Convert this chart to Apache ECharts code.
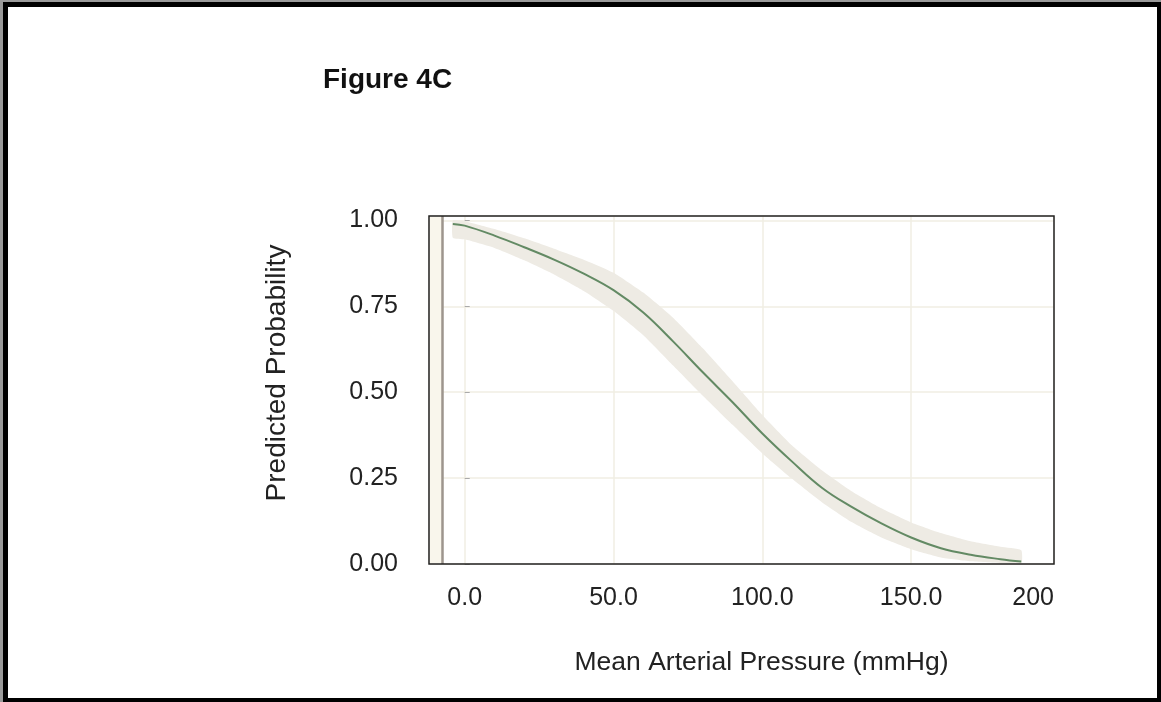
<!DOCTYPE html>
<html>
<head>
<meta charset="utf-8">
<title>Figure 4C</title>
<script src="https://cdn.jsdelivr.net/npm/echarts@6/dist/echarts.min.js"></script>
<style>
  html, body { margin: 0; padding: 0; background: #9a9a9a; }
  #frame {
    position: absolute; left: 3px; top: 2px; width: 1158px; height: 700px;
    box-sizing: border-box; border: 5px solid #000; border-right-width: 4px; border-bottom-width: 4px;
    background: #fff;
  }
  #chart { position: absolute; left: 0; top: 0; width: 1161px; height: 702px; }
</style>
</head>
<body>
<div id="frame"></div>
<div id="chart"></div>
<script>
// mean arterial pressure (mmHg)
const map = [-4, 0, 10, 20, 30, 40, 50, 60, 70, 80, 90, 100, 110, 120, 130, 140, 150, 160, 170, 180, 187];
// predicted probability
const prob = [0.990, 0.985, 0.956, 0.922, 0.886, 0.845, 0.797, 0.732, 0.648, 0.558, 0.471, 0.380, 0.298, 0.222, 0.166, 0.118, 0.077, 0.046, 0.027, 0.014, 0.007];
// 95% band
const upper = [1.000, 0.998, 0.975, 0.948, 0.918, 0.886, 0.848, 0.790, 0.717, 0.628, 0.532, 0.434, 0.345, 0.273, 0.212, 0.162, 0.121, 0.090, 0.066, 0.050, 0.040];
const lower = [0.950, 0.945, 0.920, 0.884, 0.843, 0.795, 0.737, 0.666, 0.578, 0.490, 0.405, 0.322, 0.248, 0.180, 0.122, 0.077, 0.043, 0.019, 0.008, 0.003, 0.000];

const xMin = -12, xMax = 198, xEndLabel = '200';
const yMin = 0, yMax = 1.013, yStep = 0.25;
const refLine = -7.4;

const font = '"Liberation Sans", Arial, sans-serif';
const gridColor = '#f0eee3';

const chart = echarts.init(document.getElementById('chart'));

const option = {
  animation: false,
  title: {
    text: 'Figure 4C',
    left: 318,
    top: 61,
    textStyle: { fontFamily: font, fontSize: 28, fontWeight: 'bold', color: '#111' }
  },
  grid: {
    left: 429, top: 216, right: 107, bottom: 138,
    show: true, z: 10, borderColor: '#222', borderWidth: 1.5, backgroundColor: 'transparent'
  },
  xAxis: {
    type: 'value',
    min: xMin,
    max: xMax,
    name: 'Mean Arterial Pressure (mmHg)',
    nameLocation: 'middle',
    nameGap: 85,
    nameTextStyle: { fontFamily: font, fontSize: 26.5, color: '#222', padding: [0, 0, 0, 40] },
    axisLine: { show: false },
    axisTick: { show: false },
    splitLine: { show: true, lineStyle: { color: gridColor, width: 1.5 } },
    axisLabel: {
      fontFamily: font, fontSize: 25, color: '#222', margin: 22,
      showMinLabel: false,
      alignMaxLabel: 'right',
      formatter: function (v) { return v === xMax ? xEndLabel : v.toFixed(1); }
    }
  },
  yAxis: {
    type: 'value',
    min: yMin,
    max: yMax,
    interval: yStep,
    name: 'Predicted Probability',
    nameLocation: 'middle',
    nameGap: 138,
    nameTextStyle: { fontFamily: font, fontSize: 28, color: '#222', padding: [0, 0, 0, 34] },
    axisLine: { show: false },
    axisTick: { show: true, inside: true, length: 5, lineStyle: { color: '#aaa' } },
    splitLine: { show: true, lineStyle: { color: gridColor, width: 1.5 } },
    axisLabel: {
      fontFamily: font, fontSize: 25, color: '#222', margin: 31,
      showMaxLabel: false,
      formatter: function (v) { return v.toFixed(2); }
    }
  },
  series: [
    {
      name: 'band',
      type: 'custom',
      data: [[map[0], prob[0]]],
      clip: true,
      silent: true,
      renderItem: function (params, api) {
        const pts = [];
        for (let i = 0; i < map.length; i++) pts.push(api.coord([map[i], upper[i]]));
        for (let i = map.length - 1; i >= 0; i--) pts.push(api.coord([map[i], lower[i]]));
        return {
          type: 'polygon',
          shape: { points: pts, smooth: 0.15 },
          style: { fill: '#eeebe4' }
        };
      },
      markArea: {
        silent: true,
        itemStyle: { color: '#f9f6ec' },
        data: [[{ xAxis: xMin }, { xAxis: refLine }]]
      },
      markLine: {
        silent: true,
        symbol: 'none',
        label: { show: false },
        lineStyle: { color: '#9d958d', width: 2.5, type: 'solid' },
        data: [{ xAxis: refLine }]
      },
      z: 2
    },
    {
      name: 'Predicted Probability',
      type: 'line',
      data: map.map((x, i) => [x, prob[i]]),
      symbol: 'none',
      smooth: 0.4,
      lineStyle: { color: '#638a64', width: 2 },
      z: 5
    }
  ]
};

chart.setOption(option);
window.onresize = function () { chart.resize(); };
</script>
</body>
</html>
